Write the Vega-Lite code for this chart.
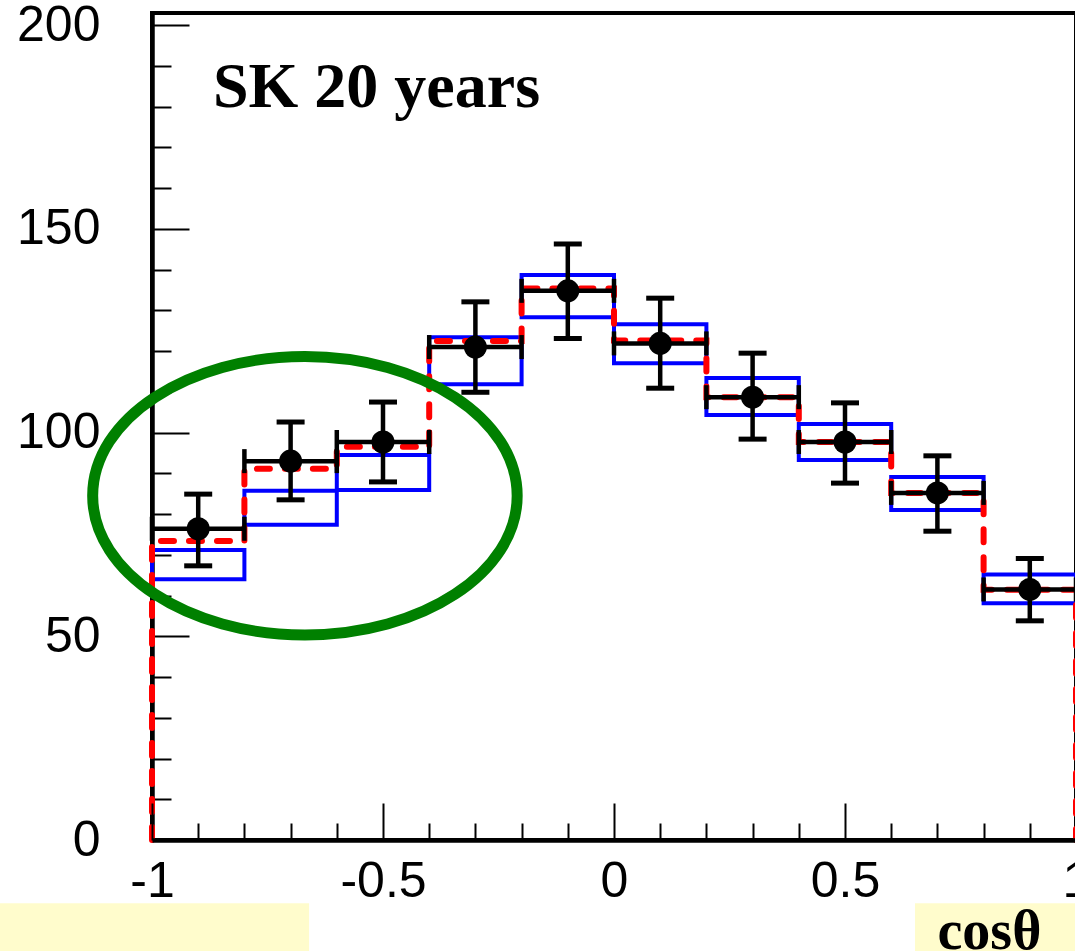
{
  "$schema": "https://vega.github.io/schema/vega-lite/v6.json",
  "width": 924,
  "height": 827,
  "autosize": {"type": "none"},
  "padding": {"left": 152, "top": 13, "right": 0, "bottom": 111},
  "background": "white",
  "config": {
    "view": {"stroke": "black", "strokeWidth": 4},
    "axis": {"grid": false, "tickColor": "black", "domainColor": "black", "labelColor": "black", "titleColor": "black", "labelFont": "Liberation Sans", "labelOverlap": false, "labelFlush": false}
  },
  "datasets": {
    "bins": [
      {"lo": -1.0, "hi": -0.8, "c": -0.9, "val": 76.4, "elo": 67.3, "ehi": 84.9, "blo": 64.0, "bhi": 71.2},
      {"lo": -0.8, "hi": -0.6, "c": -0.7, "val": 93.0, "elo": 83.5, "ehi": 102.6, "blo": 77.4, "bhi": 85.7},
      {"lo": -0.6, "hi": -0.4, "c": -0.5, "val": 97.7, "elo": 87.9, "ehi": 107.5, "blo": 85.9, "bhi": 94.5},
      {"lo": -0.4, "hi": -0.2, "c": -0.3, "val": 121.0, "elo": 109.9, "ehi": 132.1, "blo": 111.9, "bhi": 123.4},
      {"lo": -0.2, "hi": 0.0, "c": -0.1, "val": 134.8, "elo": 123.1, "ehi": 146.3, "blo": 128.3, "bhi": 138.7},
      {"lo": 0.0, "hi": 0.2, "c": 0.1, "val": 121.9, "elo": 110.9, "ehi": 133.0, "blo": 117.0, "bhi": 126.6},
      {"lo": 0.2, "hi": 0.4, "c": 0.3, "val": 108.7, "elo": 98.4, "ehi": 119.5, "blo": 104.3, "bhi": 113.4},
      {"lo": 0.4, "hi": 0.6, "c": 0.5, "val": 97.7, "elo": 87.6, "ehi": 107.3, "blo": 93.3, "bhi": 102.1},
      {"lo": 0.6, "hi": 0.8, "c": 0.7, "val": 85.2, "elo": 75.8, "ehi": 94.3, "blo": 81.0, "bhi": 89.1},
      {"lo": 0.8, "hi": 1.0, "c": 0.9, "val": 61.5, "elo": 53.8, "ehi": 69.1, "blo": 58.1, "bhi": 65.2}
    ],
    "mc": [
      {"i": 0, "x": -1.0, "y": 0},
      {"i": 1, "x": -1.0, "y": 73.4},
      {"i": 2, "x": -0.8, "y": 91.1},
      {"i": 3, "x": -0.6, "y": 96.5},
      {"i": 4, "x": -0.4, "y": 122.5},
      {"i": 5, "x": -0.2, "y": 135.4},
      {"i": 6, "x": 0.0, "y": 122.6},
      {"i": 7, "x": 0.2, "y": 108.7},
      {"i": 8, "x": 0.4, "y": 97.7},
      {"i": 9, "x": 0.6, "y": 85.2},
      {"i": 10, "x": 0.8, "y": 61.4},
      {"i": 11, "x": 1.0, "y": 0}
    ],
    "boxes": [
      {"x1": -1.35, "x2": -0.66, "y1": -15.5, "y2": -28},
      {"x1": 0.6515, "x2": 1.05, "y1": -15.5, "y2": -28}
    ],
    "label": [{"x": -0.868, "y": 180, "text": "SK 20 years"}],
    "ellipse": [{"x": -0.669, "y": 84.5}]
  },
  "layer": [
    {
      "data": {"name": "boxes"},
      "mark": {"type": "rect", "fill": "#fffccc", "stroke": null},
      "encoding": {
        "x": {"field": "x1", "type": "quantitative", "scale": {"domain": [-1, 1], "nice": false, "zero": false}, "axis": null},
        "x2": {"field": "x2"},
        "y": {"field": "y1", "type": "quantitative", "scale": {"domain": [0, 203], "nice": false, "zero": false}, "axis": null},
        "y2": {"field": "y2"}
      }
    },
    {
      "data": {"name": "bins"},
      "mark": {"type": "rect", "fill": null, "filled": false, "stroke": "#0000ff", "strokeWidth": 4},
      "encoding": {
        "x": {"field": "lo", "type": "quantitative", "scale": {"domain": [-1, 1], "nice": false, "zero": false},
          "axis": {"orient": "bottom", "values": [-1, -0.5, 0, 0.5, 1], "labelExpr": "'' + datum.value", "tickSize": -37, "tickWidth": 2, "domainWidth": 4.5, "labelFontSize": 50, "labelPadding": 53, "labelBaseline": "top", "zindex": 1,
            "title": "cosθ", "titleFont": "Liberation Serif", "titleFontWeight": "bold", "titleFontSize": 56, "titleX": 785, "titleY": 108, "titleAlign": "left", "titleBaseline": "alphabetic", "titleAnchor": "start", "titleAngle": 0}},
        "x2": {"field": "hi"},
        "y": {"field": "blo", "type": "quantitative", "scale": {"domain": [0, 203], "nice": false, "zero": false},
          "axis": {"orient": "left", "values": [0, 50, 100, 150, 200], "labelExpr": "'' + datum.value", "tickSize": -37, "tickWidth": 2, "domainWidth": 4.5, "labelFontSize": 50, "labelPadding": 89, "labelAlign": "right", "labelBaseline": "middle", "title": null}},
        "y2": {"field": "bhi"}
      }
    },
    {
      "data": {"name": "mc"},
      "mark": {"type": "line", "interpolate": "step-after", "color": "#ff0000", "strokeWidth": 6, "strokeDash": [13, 15], "strokeCap": "round"},
      "encoding": {
        "x": {"field": "x", "type": "quantitative", "scale": {"domain": [-1, 1], "nice": false, "zero": false},
          "axis": {"orient": "bottom", "values": [-0.9, -0.8, -0.7, -0.6, -0.4, -0.3, -0.2, -0.1, 0.1, 0.2, 0.3, 0.4, 0.6, 0.7, 0.8, 0.9], "tickSize": -17, "tickWidth": 2, "domain": false, "labels": false, "title": null}},
        "y": {"field": "y", "type": "quantitative", "scale": {"domain": [0, 203], "nice": false, "zero": false},
          "axis": {"orient": "left", "values": [10, 20, 30, 40, 60, 70, 80, 90, 110, 120, 130, 140, 160, 170, 180, 190], "tickSize": -19, "tickWidth": 2, "domain": false, "labels": false, "title": null}},
        "order": {"field": "i", "type": "quantitative"}
      }
    },
    {
      "data": {"name": "bins"},
      "mark": {"type": "rule", "color": "black", "strokeWidth": 4.5},
      "encoding": {
        "x": {"field": "lo", "type": "quantitative", "scale": {"domain": [-1, 1], "nice": false, "zero": false}, "axis": null},
        "x2": {"field": "hi"},
        "y": {"field": "val", "type": "quantitative", "scale": {"domain": [0, 203], "nice": false, "zero": false}, "axis": null}
      }
    },
    {
      "data": {"name": "bins"},
      "mark": {"type": "point", "shape": "M0,-1L0,1", "size": 576, "filled": false, "stroke": "black", "strokeWidth": 4.5, "opacity": 1},
      "encoding": {
        "x": {"field": "lo", "type": "quantitative", "scale": {"domain": [-1, 1], "nice": false, "zero": false}, "axis": null},
        "y": {"field": "val", "type": "quantitative", "scale": {"domain": [0, 203], "nice": false, "zero": false}, "axis": null}
      }
    },
    {
      "data": {"name": "bins"},
      "mark": {"type": "point", "shape": "M0,-1L0,1", "size": 576, "filled": false, "stroke": "black", "strokeWidth": 4.5, "opacity": 1},
      "encoding": {
        "x": {"field": "hi", "type": "quantitative", "scale": {"domain": [-1, 1], "nice": false, "zero": false}, "axis": null},
        "y": {"field": "val", "type": "quantitative", "scale": {"domain": [0, 203], "nice": false, "zero": false}, "axis": null}
      }
    },
    {
      "data": {"name": "bins"},
      "mark": {"type": "rule", "color": "black", "strokeWidth": 4.5},
      "encoding": {
        "x": {"field": "c", "type": "quantitative", "scale": {"domain": [-1, 1], "nice": false, "zero": false}, "axis": null},
        "y": {"field": "elo", "type": "quantitative", "scale": {"domain": [0, 203], "nice": false, "zero": false}, "axis": null},
        "y2": {"field": "ehi"}
      }
    },
    {
      "data": {"name": "bins"},
      "mark": {"type": "point", "shape": "M-1,0L1,0", "size": 784, "filled": false, "stroke": "black", "strokeWidth": 5, "opacity": 1},
      "encoding": {
        "x": {"field": "c", "type": "quantitative", "scale": {"domain": [-1, 1], "nice": false, "zero": false}, "axis": null},
        "y": {"field": "elo", "type": "quantitative", "scale": {"domain": [0, 203], "nice": false, "zero": false}, "axis": null}
      }
    },
    {
      "data": {"name": "bins"},
      "mark": {"type": "point", "shape": "M-1,0L1,0", "size": 784, "filled": false, "stroke": "black", "strokeWidth": 5, "opacity": 1},
      "encoding": {
        "x": {"field": "c", "type": "quantitative", "scale": {"domain": [-1, 1], "nice": false, "zero": false}, "axis": null},
        "y": {"field": "ehi", "type": "quantitative", "scale": {"domain": [0, 203], "nice": false, "zero": false}, "axis": null}
      }
    },
    {
      "data": {"name": "bins"},
      "mark": {"type": "point", "shape": "circle", "size": 531, "filled": true, "color": "black", "opacity": 1},
      "encoding": {
        "x": {"field": "c", "type": "quantitative", "scale": {"domain": [-1, 1], "nice": false, "zero": false}, "axis": null},
        "y": {"field": "val", "type": "quantitative", "scale": {"domain": [0, 203], "nice": false, "zero": false}, "axis": null}
      }
    },
    {
      "data": {"name": "label"},
      "mark": {"type": "text", "font": "Liberation Serif", "fontWeight": "bold", "fontSize": 64, "align": "left", "baseline": "alphabetic", "color": "black"},
      "encoding": {
        "x": {"field": "x", "type": "quantitative", "scale": {"domain": [-1, 1], "nice": false, "zero": false}, "axis": null},
        "y": {"field": "y", "type": "quantitative", "scale": {"domain": [0, 203], "nice": false, "zero": false}, "axis": null},
        "text": {"field": "text"}
      }
    },
    {
      "data": {"name": "ellipse"},
      "mark": {"type": "point", "shape": "M-1,0C-1,-0.362,-0.552,-0.656,0,-0.656C0.552,-0.656,1,-0.362,1,0C1,0.362,0.552,0.656,0,0.656C-0.552,0.656,-1,0.362,-1,0Z", "size": 180200, "filled": false, "stroke": "#008000", "strokeWidth": 11, "opacity": 1},
      "encoding": {
        "x": {"field": "x", "type": "quantitative", "scale": {"domain": [-1, 1], "nice": false, "zero": false}, "axis": null},
        "y": {"field": "y", "type": "quantitative", "scale": {"domain": [0, 203], "nice": false, "zero": false}, "axis": null}
      }
    }
  ],
  "resolve": {"axis": {"x": "independent", "y": "independent"}}
}
